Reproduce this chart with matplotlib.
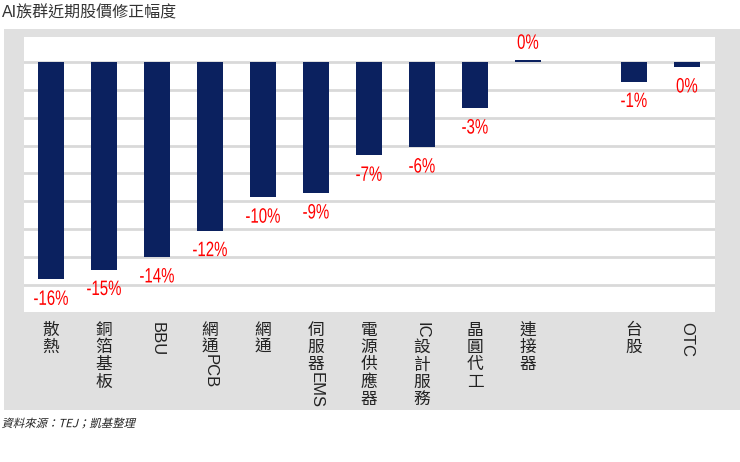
import matplotlib
matplotlib.use("Agg")
import matplotlib.pyplot as plt
from matplotlib.font_manager import FontProperties
from matplotlib.patches import PathPatch, Rectangle
from matplotlib.textpath import TextPath
from matplotlib.transforms import Affine2D, blended_transform_factory
import numpy as np

# data (None = empty slot)
categories = ["散熱", "銅箔基板", "BBU", "網通PCB", "網通", "伺服器EMS", "電源供應器",
              "IC設計服務", "晶圓代工", "連接器", "", "台股", "OTC"]
values = [-15.6, -14.9, -14.0, -12.1, -9.7, -9.4, -6.7, -6.1, -3.3, 0.15, None, -1.4, -0.35]
value_labels = ["-16%", "-15%", "-14%", "-12%", "-10%", "-9%", "-7%", "-6%", "-3%", "0%", "",
                "-1%", "0%"]

TITLE = "AI族群近期股價修正幅度"
SOURCE = "資料來源：TEJ；凱基整理"

BAR_COLOR = "#0b215f"
GRID_COLOR = "#d9d9d9"
PANEL_COLOR = "#e0e0e0"
LABEL_RED = "#ff0000"
TEXT_DARK = "#222222"

plt.rcParams["font.family"] = ["Liberation Sans", "Noto Sans CJK TC", "DejaVu Sans"]

W, H = 740, 462
DPI = 100
fig = plt.figure(figsize=(W / DPI, H / DPI), dpi=DPI)

# gray panel behind the plot area
fig.patches.append(Rectangle((4 / W, (H - 410) / H), (W - 4) / W, (410 - 29) / H,
                             transform=fig.transFigure, facecolor=PANEL_COLOR,
                             edgecolor="none", zorder=-5))

ax = fig.add_axes([24 / W, (H - 312) / H, (715 - 24) / W, (312 - 37) / H])
ax.set_facecolor("white")

x = np.arange(len(categories))
bar_vals = [np.nan if v is None else v for v in values]
ax.bar(x, bar_vals, width=0.5, color=BAR_COLOR, zorder=3)

ax.set_xlim(-0.51, 12.53)
ax.set_ylim(-17.95, 1.8)
ax.set_yticks(np.arange(-16, 1, 2))
ax.yaxis.grid(True, color=GRID_COLOR, linewidth=2.0, zorder=1)
ax.set_axisbelow(True)
ax.tick_params(left=False, bottom=False, labelleft=False, labelbottom=False)
for s in ax.spines.values():
    s.set_visible(False)


def path_text(s, px, py, prop, size, color, sx=1.0, skew=0.0, ha="center", va="top"):
    """draw text as a path so it can be condensed / slanted; px, py in pixels"""
    tp = TextPath((0, 0), s, size=size, prop=prop)
    ext = tp.get_extents()
    ax0 = {"center": (ext.x0 + ext.x1) / 2, "left": ext.x0}[ha]
    ay0 = {"top": ext.y1, "bottom": ext.y0, "center": (ext.y0 + ext.y1) / 2}[va]
    tr = (Affine2D().translate(-ax0, -ay0).scale(sx, 1.0).skew_deg(skew, 0)
          .scale(DPI / 72.0).translate(px, py))
    fig.add_artist(PathPatch(tp, transform=tr, facecolor=color, edgecolor="none",
                             lw=0, zorder=5))


# value labels (Arial-like, condensed)
num_fp = FontProperties(family="Liberation Sans")
for xi, v, lab in zip(x, values, value_labels):
    if v is None:
        continue
    bx, by = ax.transData.transform((xi, v))
    if v > 0:
        path_text(lab, bx, by + 11, num_fp, 15, LABEL_RED, sx=0.72, va="bottom")
    else:
        path_text(lab, bx, by - 11, num_fp, 15, LABEL_RED, sx=0.72, va="top")

# vertical category labels: CJK stacked, latin runs rotated
trans = blended_transform_factory(ax.transData, ax.transAxes)
FS = 12
PITCH = 12.5
latin_fp = FontProperties(family="Liberation Sans", size=FS)


def split_runs(s):
    runs = []
    for ch in s:
        if ch.isascii():
            if runs and runs[-1][0] == "latin":
                runs[-1][1] += ch
            else:
                runs.append(["latin", ch])
        else:
            runs.append(["cjk", ch])
    return runs


for xi, cat in zip(x, categories):
    off = -7.0
    for kind, run in split_runs(cat):
        if kind == "cjk":
            ax.annotate(run, (xi, 0), xycoords=trans, xytext=(0, off),
                        textcoords="offset points", ha="center", va="top",
                        fontsize=FS, color=TEXT_DARK, family="Noto Sans CJK TC",
                        annotation_clip=False)
            off -= PITCH
        else:
            start = off + 1.5 if off < -7.0 else off
            ax.annotate(run, (xi, 0), xycoords=trans, xytext=(0, start),
                        textcoords="offset points", ha="center", va="top",
                        rotation=-90, fontsize=FS, color=TEXT_DARK,
                        family="Liberation Sans", annotation_clip=False)
            width = TextPath((0, 0), run, size=FS, prop=latin_fp).get_extents().width
            off = start - width - 2

fig.text(2 / W, 1 - 13 / H, TITLE, ha="left", va="center", fontsize=11.5,
         color="#333333", family=["Liberation Sans", "Noto Sans CJK TC"])

# source note, slanted like the reference
path_text(SOURCE, 3, H - 423, FontProperties(family="Noto Sans CJK TC"), 8.2,
          TEXT_DARK, skew=14, ha="left", va="center")

fig.savefig("out.png", dpi=DPI)
